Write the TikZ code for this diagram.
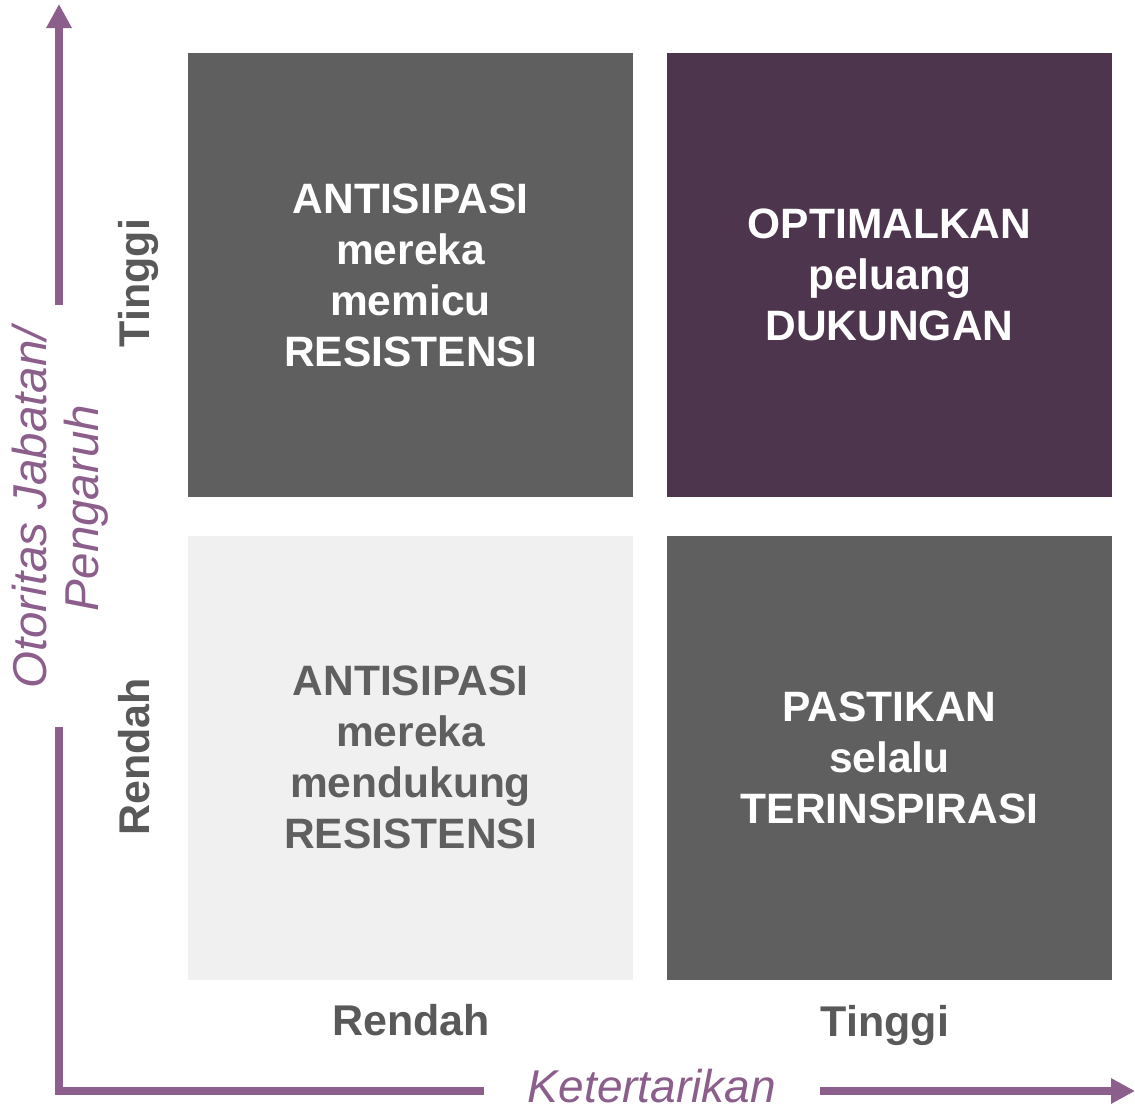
\documentclass[tikz,border=0pt]{standalone}
\usepackage{fontspec}
\setmainfont{Liberation Sans}
\usetikzlibrary{arrows.meta}
\definecolor{abutua}{HTML}{5F5F5F}
\definecolor{abumuda}{HTML}{F0F0F0}
\definecolor{unguTua}{HTML}{4D354D}
\definecolor{unguSumbu}{HTML}{8B5E8B}
\definecolor{teksAbu}{HTML}{595959}
\begin{document}
\begin{tikzpicture}[x=1pt,y=-1pt]
    \tikzset{kotak/.style={minimum width=445pt,minimum height=444pt,inner sep=0pt,align=center,
        font=\bfseries\fontsize{42.5}{51}\selectfont}}
    \tikzset{tingkat/.style={text=teksAbu,inner sep=0pt,anchor=base,font=\bfseries\fontsize{43}{51}\selectfont}}
    \tikzset{judulsumbu/.style={text=unguSumbu,inner sep=0pt,align=center,font=\itshape\fontsize{47.5}{52}\selectfont}}
    \tikzset{sumbu/.style={draw=unguSumbu,line width=8pt,line join=miter}}
    \useasboundingbox (0,0) rectangle (1135,1109);
    % kuadran
    \node[kotak,fill=abutua,text=white] (kiriatas) at (410.5,275) {ANTISIPASI\\mereka\\memicu\\RESISTENSI};
    \node[kotak,fill=unguTua,text=white] (kananatas) at (889.5,275) {OPTIMALKAN\\peluang\\DUKUNGAN};
    \node[kotak,fill=abumuda,text=abutua] (kiribawah) at (410.5,757.5) {ANTISIPASI\\mereka\\mendukung\\RESISTENSI};
    \node[kotak,fill=abutua,text=white] (kananbawah) at (889.5,757.5) {PASTIKAN\\selalu\\TERINSPIRASI};
    % tingkat
    \node[tingkat,rotate=90] (yTinggi) at (149,283) {Tinggi};
    \node[tingkat,rotate=90] (yRendah) at (149,757) {Rendah};
    \node[tingkat] (xRendah) at (411,1035) {Rendah};
    \node[tingkat] (xTinggi) at (885,1036) {Tinggi};
    % sumbu
    \node[judulsumbu,anchor=base,font=\itshape\fontsize{46}{51}\selectfont] (xJudul) at (652,1102) {Ketertarikan};
    \node[judulsumbu,rotate=90] (yJudul) at (60,508) {Otoritas Jabatan/\\Pengaruh};
    \coordinate (ujungY) at (59,4);
    \coordinate (putusY) at (59,305);
    \coordinate (mulaiY) at (59,727);
    \coordinate (pojok) at (59,1091);
    \coordinate (putusX) at (484,1091);
    \coordinate (mulaiX) at (820,1091);
    \coordinate (ujungX) at (1135,1091);
    \draw[sumbu,-{Triangle[length=24pt,width=24pt]}] (putusY) -- (ujungY);
    \draw[sumbu] (mulaiY) -- (pojok) -- (putusX);
    \draw[sumbu,-{Triangle[length=24pt,width=24pt]}] (mulaiX) -- (ujungX);
\end{tikzpicture}
\end{document}
